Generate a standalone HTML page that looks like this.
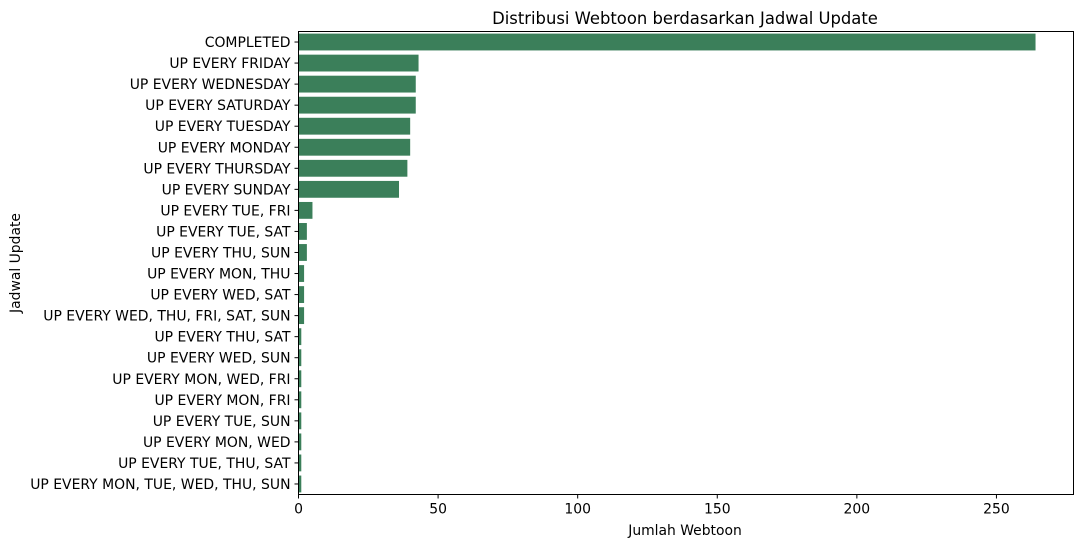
<!DOCTYPE html>
<html><head><meta charset="utf-8"><style>
body{margin:0;background:#fff;font-family:"Liberation Sans","DejaVu Sans",sans-serif}
</style></head><body>
<svg id="chart" width="1082" height="547" xmlns="http://www.w3.org/2000/svg" font-family="DejaVu Sans, Liberation Sans, sans-serif">
<rect width="1082" height="547" fill="#fff"/>
<text x="685" y="24" font-size="16.4" text-anchor="middle">Distribusi Webtoon berdasarkan Jadwal Update</text>
<g id="bars"></g><g id="yt"></g><g id="xt"></g>
<rect x="298.5" y="31.5" width="775" height="463" fill="none" stroke="#000" stroke-width="1"/>
<text x="685" y="535" font-size="13.9" text-anchor="middle">Jumlah Webtoon</text>
<text x="20" y="263" font-size="13.9" text-anchor="middle" transform="rotate(-90 20 263)">Jadwal Update</text>
</svg>
<script>
const categories=["COMPLETED","UP EVERY FRIDAY","UP EVERY WEDNESDAY","UP EVERY SATURDAY","UP EVERY TUESDAY","UP EVERY MONDAY","UP EVERY THURSDAY","UP EVERY SUNDAY","UP EVERY TUE, FRI","UP EVERY TUE, SAT","UP EVERY THU, SUN","UP EVERY MON, THU","UP EVERY WED, SAT","UP EVERY WED, THU, FRI, SAT, SUN","UP EVERY THU, SAT","UP EVERY WED, SUN","UP EVERY MON, WED, FRI","UP EVERY MON, FRI","UP EVERY TUE, SUN","UP EVERY MON, WED","UP EVERY TUE, THU, SAT","UP EVERY MON, TUE, WED, THU, SUN"];
const counts=[264,43,42,42,40,40,39,36,5,3,3,2,2,2,1,1,1,1,1,1,1,1];
const xTicks=[0,50,100,150,200,250];
const NS="http://www.w3.org/2000/svg";
const L=298.5,R=1073.5,T=31.5,B=494.5,xMax=277.6;
const x=v=>L+v/xMax*(R-L);
const step=(B-T)/categories.length;
const y=i=>T+step*(i+0.5);
function mk(t,a,p){const e=document.createElementNS(NS,t);for(const k in a)e.setAttribute(k,a[k]);p.appendChild(e);return e;}
const gb=document.getElementById('bars'),gy=document.getElementById('yt'),gx=document.getElementById('xt');
categories.forEach((c,i)=>{
 const r=mk('rect',{x:L,y:y(i)-step*0.4,width:x(counts[i])-L,height:step*0.8,fill:'#3b7f5a'},gb);
 
 
 const tk=mk('line',{x1:L-4,x2:L,y1:y(i),y2:y(i),stroke:'#000'},gy);
 
 
 const t=mk('text',{x:L-8,y:y(i)+5,'font-size':'13.95','text-anchor':'end'},gy);
 t.textContent=c;
 
 
});
xTicks.forEach(v=>{
 const tk=mk('line',{x1:x(v),x2:x(v),y1:B,y2:B+4,stroke:'#000'},gx);
 
 
 const t=mk('text',{x:x(v),y:B+19,'font-size':'13.95','text-anchor':'middle'},gx);
 t.textContent=v;
 
 
});
</script>
</body></html>
